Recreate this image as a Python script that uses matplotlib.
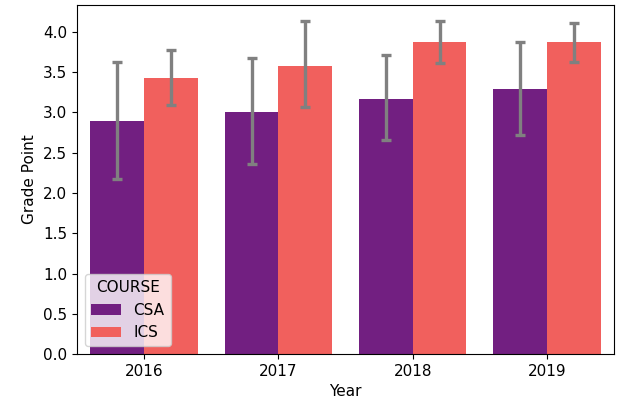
import numpy as np
import matplotlib
matplotlib.use("Agg")
import matplotlib.pyplot as plt

years = ['2016', '2017', '2018', '2019']
courses = ['CSA', 'ICS']
csa_mean = [2.89, 3.01, 3.17, 3.29]
csa_low = [2.17, 2.36, 2.66, 2.72]
csa_high = [3.62, 3.67, 3.71, 3.87]
ics_mean = [3.43, 3.58, 3.87, 3.87]
ics_low = [3.09, 3.07, 3.61, 3.63]
ics_high = [3.77, 4.13, 4.13, 4.11]

colors = ['#721f81', '#f1605d']

plt.rcParams['font.size'] = 11

fig = plt.figure(figsize=(6.21, 4.07), dpi=100)
ax = fig.add_axes([0.124, 0.130, 0.865, 0.858])

x = np.arange(len(years))
width = 0.4
series = [(csa_mean, csa_low, csa_high), (ics_mean, ics_low, ics_high)]
for i, (mean, low, high) in enumerate(series):
    pos = x + (i - 0.5) * width
    mean = np.array(mean)
    ax.bar(pos, mean, width, color=colors[i], label=courses[i])
    yerr = [mean - np.array(low), np.array(high) - mean]
    ax.errorbar(pos, mean, yerr=yerr, fmt='none', ecolor='#808080',
                elinewidth=2.4, capsize=3.5, capthick=2.4)

ax.set_xticks(x)
ax.set_xticklabels(years)
ax.set_xlim(-0.5, 3.5)
ax.set_ylim(0, 4.335)
ax.set_xlabel('Year')
ax.set_ylabel('Grade Point')
ax.legend(title='COURSE', loc='lower left', title_fontsize=11)

fig.savefig('out.png', dpi=100)
